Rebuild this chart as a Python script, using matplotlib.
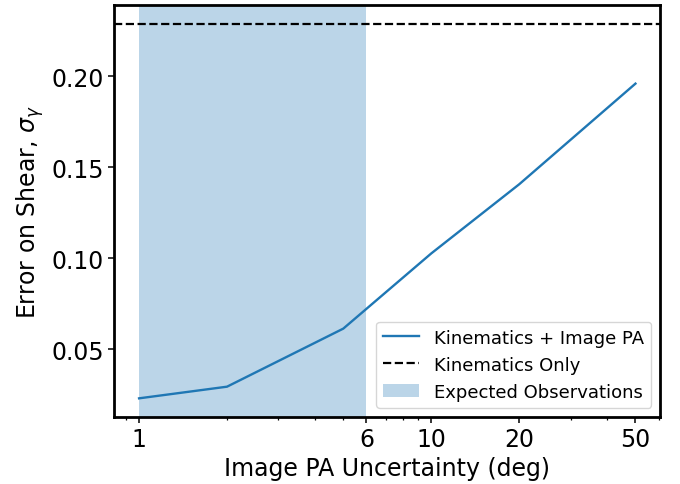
import matplotlib
matplotlib.use("Agg")
import matplotlib.pyplot as plt
from matplotlib.ticker import FixedLocator, FixedFormatter

# PA uncertainty (deg) vs shear error
pa_unc = [1, 2, 5, 10, 20, 50]
sigma_gamma = [0.0231, 0.0295, 0.0614, 0.1027, 0.1407, 0.196]
kin_only = 0.229
expected_range = (1, 6)
xticks = [1, 6, 10, 20, 50]
xtick_labels = ["1", "6", "10", "20", "50"]

fig, ax = plt.subplots(figsize=(6.8, 4.85), dpi=100)
fig.subplots_adjust(left=0.168, right=0.971, top=0.988, bottom=0.138)

ax.plot(pa_unc, sigma_gamma, color="tab:blue", lw=1.7, label="Kinematics + Image PA")
ax.axhline(kin_only, color="black", linestyle="--", lw=1.6, label="Kinematics Only")
ax.axvspan(*expected_range, color="tab:blue", alpha=0.3, lw=0,
           label="Expected Observations")

ax.set_xscale("log")
ax.xaxis.set_major_locator(FixedLocator(xticks))
ax.xaxis.set_major_formatter(FixedFormatter(xtick_labels))
ax.set_yticks([0.05, 0.10, 0.15, 0.20])

ax.tick_params(labelsize=17, width=1.1, length=4)
ax.tick_params(which="minor", width=0.9, length=2.5)
ax.set_xlabel("Image PA Uncertainty (deg)", fontsize=17, labelpad=3)
ax.set_ylabel(r"Error on Shear, $\sigma_\gamma$", fontsize=17)
for s in ax.spines.values():
    s.set_linewidth(2.0)

ax.legend(loc="lower right", fontsize=13)

plt.savefig("out.png")
